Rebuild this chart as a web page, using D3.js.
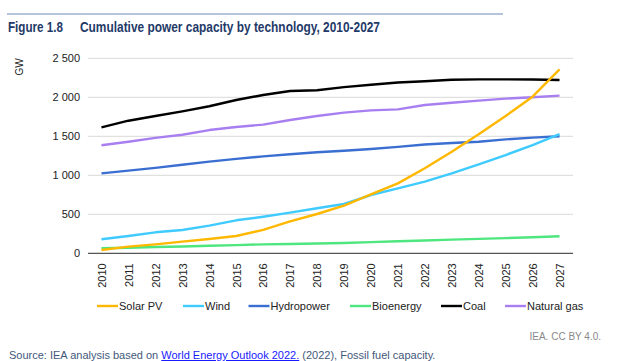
<!DOCTYPE html>
<html>
<head>
<meta charset="utf-8">
<script src="https://cdn.jsdelivr.net/npm/d3@7"></script>
<style>
  body { margin: 0; background: #fff; }
  svg { display: block; font-family: "Liberation Sans", Arial, sans-serif; }
</style>
</head>
<body>
<svg id="chart" width="624" height="361"></svg>
<script>
const years = d3.range(2010, 2028).map(String);
const solarPV = [42, 85, 115, 149, 183, 222, 300, 410, 504, 610, 756, 897, 1090, 1303, 1526, 1760, 2008, 2359];
const wind = [180, 222, 269, 299, 354, 423, 469, 521, 577, 632, 747, 833, 918, 1025, 1141, 1260, 1388, 1529];
const hydropower = [1025, 1060, 1095, 1135, 1175, 1210, 1243, 1270, 1295, 1315, 1337, 1365, 1395, 1415, 1431, 1460, 1483, 1500];
const bioenergy = [64, 72, 80, 88, 96, 105, 115, 120, 126, 133, 143, 155, 165, 175, 185, 195, 205, 218];
const coal = [1615, 1700, 1760, 1820, 1885, 1965, 2030, 2080, 2090, 2130, 2160, 2190, 2205, 2225, 2230, 2230, 2228, 2222];
const naturalGas = [1385, 1430, 1480, 1520, 1580, 1620, 1650, 1709, 1760, 1803, 1833, 1845, 1901, 1931, 1957, 1983, 2000, 2022];
const yTicks = [0, 500, 1000, 1500, 2000, 2500];

const series = [
  { name: 'Solar PV', values: solarPV, color: '#ffb800' },
  { name: 'Wind', values: wind, color: '#3fcbff' },
  { name: 'Hydropower', values: hydropower, color: '#3a6fd1' },
  { name: 'Bioenergy', values: bioenergy, color: '#4ee67e' },
  { name: 'Coal', values: coal, color: '#000000' },
  { name: 'Natural gas', values: naturalGas, color: '#a87ff0' }
];
// draw order: back to front
const drawOrder = ['Bioenergy', 'Hydropower', 'Natural gas', 'Coal', 'Wind', 'Solar PV'];

const svg = d3.select('#chart');
const navy = '#1f3a68';

// header rule and title
svg.append('line')
  .attr('x1', 7).attr('x2', 503).attr('y1', 14).attr('y2', 14)
  .attr('stroke', '#6d8ab8').attr('stroke-width', 1);
svg.append('text')
  .attr('x', 8).attr('y', 32)
  .attr('fill', navy).attr('font-weight', 'bold').attr('font-size', 15)
  .attr('textLength', 55).attr('lengthAdjust', 'spacingAndGlyphs')
  .text('Figure 1.8');
svg.append('text')
  .attr('x', 80).attr('y', 32)
  .attr('fill', navy).attr('font-weight', 'bold').attr('font-size', 15)
  .attr('textLength', 300).attr('lengthAdjust', 'spacingAndGlyphs')
  .text('Cumulative power capacity by technology, 2010-2027');

const x = d3.scalePoint().domain(years).range([88, 573]).padding(0.5);
const y = d3.scaleLinear().domain([0, 2500]).range([253.3, 58.3]);

const fmt = v => d3.format(',')(v).replace(/,/g, ' ');

// gridlines
svg.append('g')
  .selectAll('line')
  .data(yTicks.filter(d => d > 0))
  .enter().append('line')
  .attr('x1', 88).attr('x2', 573)
  .attr('y1', d => y(d)).attr('y2', d => y(d))
  .attr('stroke', '#d9d9d9').attr('stroke-width', 1);

// y axis labels
const yAxis = svg.append('g')
  .attr('transform', 'translate(80,0)')
  .call(d3.axisLeft(y).tickValues(yTicks).tickSize(0).tickPadding(0).tickFormat(fmt));
yAxis.select('.domain').remove();
yAxis.selectAll('text')
  .attr('font-family', '"Liberation Sans", Arial, sans-serif')
  .attr('font-size', 11).attr('fill', '#222');

svg.append('text')
  .attr('transform', 'translate(23,67) rotate(-90)')
  .attr('text-anchor', 'middle')
  .attr('font-size', 10).attr('fill', '#222')
  .text('GW');

// x axis
const xAxis = svg.append('g')
  .attr('transform', `translate(0,${y(0)})`)
  .call(d3.axisBottom(x).tickSize(0).tickPadding(0));
xAxis.select('.domain')
  .attr('d', 'M88,0H573')
  .attr('stroke', '#555').attr('stroke-width', 1.2);
xAxis.selectAll('text')
  .attr('font-family', '"Liberation Sans", Arial, sans-serif')
  .attr('font-size', 11).attr('fill', '#222')
  .attr('text-anchor', 'end')
  .attr('dy', '0.35em')
  .attr('transform', 'translate(0,10) rotate(-90)')
  .attr('x', 0).attr('y', 0);

// lines
const line = d3.line()
  .x((d, i) => x(years[i]))
  .y(d => y(d));

svg.append('g')
  .selectAll('path')
  .data(drawOrder.map(n => series.find(s => s.name === n)))
  .enter().append('path')
  .attr('d', d => line(d.values))
  .attr('fill', 'none')
  .attr('stroke', d => d.color)
  .attr('stroke-width', 2.4)
  .attr('stroke-linejoin', 'round');

// legend
const legendX = [97, 183, 248.5, 350, 441, 505];
const legend = svg.append('g')
  .selectAll('g')
  .data(series)
  .enter().append('g')
  .attr('transform', (d, i) => `translate(${legendX[i]},306)`);
legend.append('line')
  .attr('x1', 0).attr('x2', 21)
  .attr('stroke', d => d.color).attr('stroke-width', 2.4);
legend.append('text')
  .attr('x', 22).attr('dy', '0.35em')
  .attr('font-size', 11).attr('fill', '#222')
  .text(d => d.name);

// credits
svg.append('text')
  .attr('x', 601).attr('y', 340)
  .attr('text-anchor', 'end')
  .attr('font-size', 10).attr('fill', '#888')
  .text('IEA. CC BY 4.0.');

const src = svg.append('text')
  .attr('x', 9).attr('y', 359)
  .attr('font-size', 11).attr('fill', '#42587a');
src.append('tspan').text('Source: IEA analysis based on ');
src.append('tspan').attr('fill', '#1a1aff').attr('text-decoration', 'underline').text('World Energy Outlook 2022.');
src.append('tspan').text(' (2022), Fossil fuel capacity.');
</script>
</body>
</html>
